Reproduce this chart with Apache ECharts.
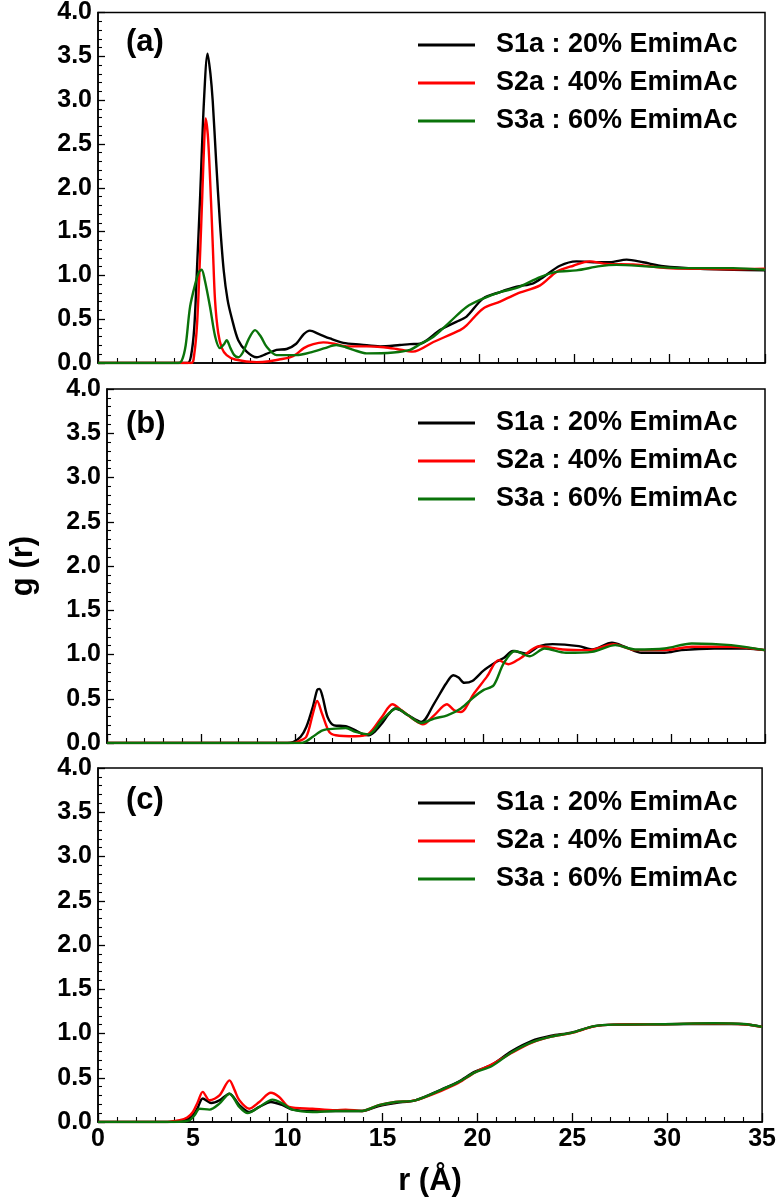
<!DOCTYPE html>
<html>
<head>
<meta charset="utf-8">
<script src="https://cdn.jsdelivr.net/npm/echarts@6/dist/echarts.min.js"></script>
<style>html,body{margin:0;padding:0;background:#fff}#c{width:779px;height:1201px}</style>
</head>
<body>
<div id="c"></div>
<script>
// ---- data ----
const seriesNames = ['S1a : 20% EmimAc', 'S2a : 40% EmimAc', 'S3a : 60% EmimAc'];
const panelLabels = ['(a)', '(b)', '(c)'];
const xTicks = [0, 5, 10, 15, 20, 25, 30, 35];
const yTicks = [0.0, 0.5, 1.0, 1.5, 2.0, 2.5, 3.0, 3.5, 4.0];

// panel (a)
const a_S1 = [[0,0],[4.7,0],[4.88,0.08],[5.05,0.4],[5.2,1.1],[5.35,1.85],[5.56,2.99],[5.75,3.53],[5.9,3.3],[6.02,2.99],[6.2,2.3],[6.4,1.6],[6.6,1.05],[6.8,0.72],[7.01,0.52],[7.36,0.26],[7.8,0.13],[8.33,0.065],[8.8,0.1],[9.37,0.15],[9.9,0.16],[10.4,0.22],[10.8,0.33],[11.12,0.37],[11.6,0.33],[12.17,0.28],[12.87,0.23],[13.8,0.21],[14.8,0.19],[15.84,0.205],[16.37,0.215],[16.9,0.22],[17.94,0.375],[18.8,0.47],[19.34,0.53],[20.2,0.735],[21.1,0.81],[21.97,0.87],[22.84,0.91],[23.36,0.98],[24.24,1.11],[25.1,1.16],[26.0,1.15],[26.86,1.15],[27.74,1.18],[28.6,1.15],[29.66,1.105],[31.6,1.075],[33.33,1.065],[35,1.057]];
const a_S2 = [[0,0],[4.9,0],[5.05,0.1],[5.2,0.45],[5.35,1.2],[5.47,1.9],[5.57,2.5],[5.65,2.79],[5.78,2.55],[5.93,1.85],[6.03,1.3],[6.14,0.72],[6.31,0.34],[6.5,0.17],[6.75,0.09],[7.19,0.04],[8.33,0.01],[9.0,0.02],[9.5,0.04],[10.07,0.065],[10.4,0.10],[10.8,0.17],[11.3,0.215],[11.82,0.235],[12.4,0.22],[13.05,0.19],[14.1,0.19],[15.0,0.18],[15.67,0.16],[16.53,0.13],[17.6,0.24],[19.0,0.375],[19.34,0.43],[20.2,0.62],[21.1,0.70],[21.97,0.79],[23.2,0.886],[24.06,1.04],[24.94,1.11],[25.8,1.16],[26.7,1.13],[28.08,1.125],[29.84,1.083],[31.6,1.075],[33.33,1.07],[35,1.075]];
const a_S3 = [[0,0],[4.2,0],[4.4,0.03],[4.6,0.2],[4.83,0.64],[5.1,0.9],[5.3,1.04],[5.44,1.065],[5.6,0.95],[5.88,0.64],[6.15,0.3],[6.4,0.17],[6.6,0.21],[6.75,0.26],[6.95,0.17],[7.15,0.09],[7.36,0.065],[7.6,0.12],[7.9,0.27],[8.24,0.375],[8.55,0.3],[8.85,0.185],[9.37,0.09],[10.4,0.09],[11.3,0.13],[11.9,0.17],[12.5,0.205],[13.0,0.18],[13.4,0.15],[14.1,0.11],[15.5,0.12],[16.37,0.15],[16.9,0.215],[17.6,0.30],[18.47,0.47],[19.34,0.64],[20.2,0.735],[21.1,0.81],[21.97,0.856],[23.2,0.98],[24.06,1.04],[25.1,1.057],[26.34,1.105],[27.2,1.12],[28.96,1.10],[30.7,1.083],[33.33,1.083],[35,1.065]];

// panel (b)
const b_S1 = [[0,0],[9.6,0],[9.9,0.01],[10.3,0.07],[10.6,0.18],[10.95,0.41],[11.18,0.60],[11.3,0.61],[11.47,0.52],[11.74,0.29],[12.08,0.20],[12.7,0.19],[13.22,0.144],[13.6,0.1],[13.92,0.087],[14.25,0.13],[14.62,0.22],[15.0,0.33],[15.32,0.39],[15.6,0.37],[16.02,0.313],[16.72,0.238],[17.4,0.446],[18.03,0.67],[18.42,0.766],[18.7,0.74],[19.0,0.68],[19.43,0.70],[20.04,0.82],[20.74,0.92],[21.1,0.96],[21.6,1.04],[22.31,1.01],[23.0,1.094],[23.7,1.117],[25.1,1.094],[25.8,1.057],[26.86,1.132],[27.56,1.087],[28.44,1.019],[29.66,1.019],[30.54,1.049],[32.3,1.068],[34.03,1.068],[35,1.049]];
const b_S2 = [[0,0],[9.9,0],[10.2,0.02],[10.6,0.07],[10.95,0.33],[11.18,0.475],[11.44,0.33],[11.82,0.125],[12.17,0.087],[13.22,0.076],[13.92,0.106],[14.62,0.294],[15.18,0.438],[15.67,0.37],[16.37,0.257],[16.8,0.21],[17.4,0.313],[18.08,0.438],[18.47,0.37],[18.82,0.35],[19.52,0.56],[20.21,0.75],[20.83,0.936],[21.35,0.89],[21.97,0.955],[23.0,1.094],[24.24,1.057],[25.64,1.049],[26.95,1.117],[28.09,1.049],[29.66,1.049],[31.1,1.087],[33.2,1.087],[35,1.049]];
const b_S3 = [[0,0],[10.3,0],[10.6,0.02],[10.95,0.07],[11.47,0.144],[12.17,0.163],[12.7,0.17],[13.22,0.125],[13.92,0.098],[14.62,0.257],[15.41,0.39],[16.02,0.313],[16.72,0.226],[17.4,0.276],[18.1,0.313],[18.82,0.39],[19.52,0.52],[20.04,0.60],[20.57,0.653],[21.1,0.90],[21.7,1.04],[22.49,0.98],[23.28,1.068],[24.41,1.019],[25.8,1.03],[27.04,1.106],[28.09,1.057],[29.66,1.068],[31.1,1.125],[33.2,1.106],[35,1.049]];

// panel (c)
const c_S1 = [[0,0],[3.5,0],[4.3,0.01],[4.7,0.03],[5.0,0.075],[5.25,0.16],[5.52,0.265],[5.97,0.215],[6.4,0.245],[6.93,0.32],[7.45,0.19],[7.97,0.113],[8.5,0.17],[9.11,0.226],[9.73,0.19],[10.25,0.14],[11.3,0.125],[12.52,0.125],[13.92,0.125],[14.8,0.18],[15.67,0.215],[16.72,0.245],[18.12,0.37],[18.99,0.455],[19.87,0.57],[20.74,0.645],[21.79,0.80],[22.84,0.915],[23.89,0.975],[24.94,1.01],[26.16,1.083],[27.2,1.10],[29.84,1.105],[32.46,1.11],[34.03,1.105],[35,1.075]];
const c_S2 = [[0,0],[3.5,0],[4.3,0.02],[4.7,0.05],[5.0,0.113],[5.25,0.22],[5.52,0.34],[5.88,0.245],[6.4,0.30],[6.93,0.47],[7.2,0.36],[7.45,0.245],[7.97,0.15],[8.5,0.226],[9.11,0.33],[9.55,0.283],[10.07,0.17],[11.3,0.15],[12.52,0.132],[13.05,0.14],[13.92,0.125],[14.8,0.19],[15.67,0.226],[16.72,0.245],[18.12,0.355],[18.99,0.44],[19.87,0.56],[20.74,0.65],[21.79,0.78],[22.84,0.895],[23.89,0.965],[24.94,1.005],[26.16,1.08],[27.2,1.10],[29.84,1.105],[32.46,1.113],[34.03,1.105],[35,1.075]];
const c_S3 = [[0,0],[4.0,0],[4.5,0.005],[4.83,0.02],[5.1,0.08],[5.35,0.15],[5.88,0.14],[6.4,0.208],[6.93,0.32],[7.45,0.17],[7.89,0.10],[8.5,0.17],[9.2,0.253],[9.73,0.208],[10.25,0.14],[11.3,0.113],[12.52,0.125],[13.92,0.125],[14.8,0.19],[15.67,0.226],[16.72,0.245],[18.12,0.366],[18.99,0.45],[19.87,0.56],[20.74,0.63],[21.79,0.785],[22.84,0.90],[23.89,0.965],[24.94,1.007],[26.16,1.083],[27.2,1.10],[29.84,1.105],[32.46,1.115],[34.03,1.108],[35,1.075]];

const panels = [[a_S1, a_S2, a_S3], [b_S1, b_S2, b_S3], [c_S1, c_S2, c_S3]];
const colors = ['#000000', '#ff0000', '#0a730a'];

// ---- layout ----
const FONT = '"Liberation Sans", Arial, sans-serif';
const gridTops = [11, 389, 768];
const gridH = [352, 354, 354];
const legendTops = [30, 408, 788];
const labelTops = [26, 408, 784];

const chart = echarts.init(document.getElementById('c'), null, {renderer: 'canvas'});

const grids = [], xAxes = [], yAxes = [], series = [], legends = [], titles = [];
for (let p = 0; p < 3; p++) {
  grids.push({left: 98, top: gridTops[p], width: 667, height: gridH[p], show: true,
    borderColor: '#000', borderWidth: 1.5, backgroundColor: 'transparent', containLabel: false});
  const last = p === 2;
  xAxes.push({
    type: 'value', gridIndex: p, min: xTicks[0], max: xTicks[xTicks.length - 1], interval: 5,
    axisLine: {show: true, onZero: false, lineStyle: {color: '#000', width: 1.5}},
    axisTick: {show: true, inside: true, length: 9, lineStyle: {color: '#000', width: 1.3}},
    minorTick: {show: true, splitNumber: 5, length: 5, lineStyle: {color: '#000', width: 1.1}},
    splitLine: {show: false},
    axisLabel: {show: last, margin: 5, color: '#000', fontSize: 25, fontWeight: 'bold', fontFamily: FONT},
    name: last ? 'r (Å)' : '', nameLocation: 'middle', nameGap: 44,
    nameTextStyle: {color: '#000', fontSize: 31, fontWeight: 'bold', fontFamily: FONT}
  });
  yAxes.push({
    type: 'value', gridIndex: p, min: yTicks[0], max: yTicks[yTicks.length - 1], interval: 0.5,
    axisLine: {show: true, onZero: false, lineStyle: {color: '#000', width: 1.5}},
    axisTick: {show: true, inside: true, length: 7, lineStyle: {color: '#000', width: 1.3}},
    minorTick: {show: true, splitNumber: 5, length: 4, lineStyle: {color: '#000', width: 1.1}},
    splitLine: {show: false},
    axisLabel: {margin: 6, color: '#000', fontSize: 25, fontWeight: 'bold', fontFamily: FONT,
      formatter: v => v.toFixed(1)},
    name: p === 1 ? 'g (r)' : '', nameLocation: 'middle', nameGap: 68, nameRotate: 90,
    nameTextStyle: {color: '#000', fontSize: 31, fontWeight: 'bold', fontFamily: FONT}
  });
  for (let s = 0; s < 3; s++) {
    series.push({
      type: 'line', name: seriesNames[s], xAxisIndex: p, yAxisIndex: p,
      data: panels[p][s], symbol: 'none', smooth: 0.3, animation: false,
      lineStyle: {color: colors[s], width: 2.4}, itemStyle: {color: colors[s]}
    });
  }
  legends.push({
    show: true, orient: 'vertical', left: 418, top: legendTops[p], padding: 0,
    icon: 'rect', itemWidth: 57, itemHeight: 3, itemGap: 8, selectedMode: false,
    data: seriesNames,
    textStyle: {color: '#000', fontSize: 27, fontWeight: 'bold', fontFamily: FONT,
      lineHeight: 30, padding: [0, 0, 0, 16]}
  });
  titles.push({
    text: panelLabels[p], left: 126, top: labelTops[p], padding: 0,
    textStyle: {color: '#000', fontSize: 31, fontWeight: 'bold', fontFamily: FONT, lineHeight: 32}
  });
}

chart.setOption({
  backgroundColor: '#fff',
  animation: false,
  title: titles,
  legend: legends,
  grid: grids,
  xAxis: xAxes,
  yAxis: yAxes,
  series: series
});
</script>
</body>
</html>
